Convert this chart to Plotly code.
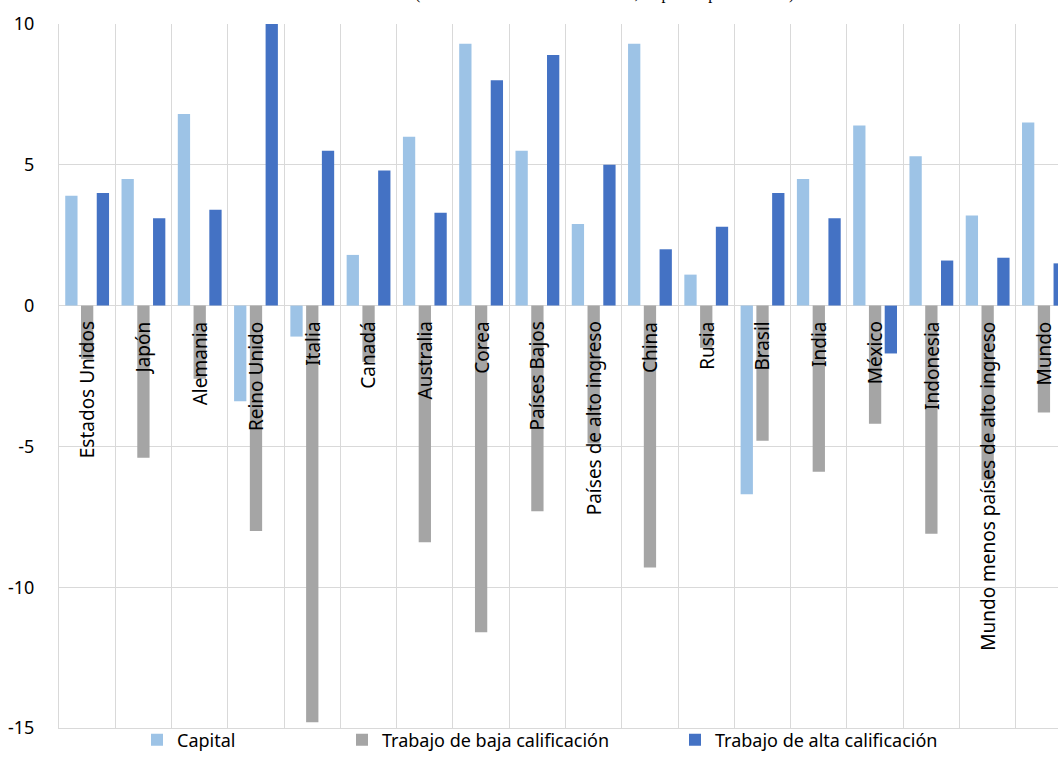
import plotly.graph_objects as go

categorias = [
    "Estados Unidos", "Japón", "Alemania", "Reino Unido", "Italia", "Canadá",
    "Australia", "Corea", "Países Bajos", "Países de alto ingreso", "China",
    "Rusia", "Brasil", "India", "México", "Indonesia",
    "Mundo menos países de alto ingreso", "Mundo",
]

capital = [3.9, 4.5, 6.8, -3.4, -1.1, 1.8, 6.0, 9.3, 5.5, 2.9, 9.3, 1.1, -6.7, 4.5, 6.4, 5.3, 3.2, 6.5]
trabajo_baja = [-1.9, -5.4, -2.6, -8.0, -14.8, -2.0, -8.4, -11.6, -7.3, -4.9, -9.3, -1.5, -4.8, -5.9, -4.2, -8.1, -6.2, -3.8]
trabajo_alta = [4.0, 3.1, 3.4, 10.0, 5.5, 4.8, 3.3, 8.0, 8.9, 5.0, 2.0, 2.8, 4.0, 3.1, -1.7, 1.6, 1.7, 1.5]

y_ticks = [10, 5, 0, -5, -10, -15]

FONT = "Noto Sans"
GRID = "#D9D9D9"

fig = go.Figure()
series = [
    ("Capital", capital, "#9DC3E6", "legend"),
    ("Trabajo de baja calificación", trabajo_baja, "#A5A5A5", "legend2"),
    ("Trabajo de alta calificación", trabajo_alta, "#4472C4", "legend3"),
]
for name, vals, color, leg in series:
    fig.add_trace(go.Bar(
        x=categorias, y=vals, name=name, marker_color=color,
        marker_line_width=0, legend=leg,
    ))

# category names written vertically just under the zero line
for cat in categorias:
    fig.add_annotation(
        x=cat, y=0, xref="x", yref="y", text=cat, textangle=-90,
        showarrow=False, xanchor="center", yanchor="top", yshift=-14,
        font=dict(family=FONT, size=19, color="#000000"),
    )

# subtitle sitting above the chart
fig.add_annotation(
    x=(604 - 59) / 999, y=1, xref="paper", yref="paper", yanchor="bottom", yshift=19,
    text="(variación de la remuneración real, en puntos porcentuales)",
    showarrow=False, font=dict(family="Liberation Serif", size=16, color="#000000"),
)

legend_common = dict(
    orientation="h", xref="container", yref="container", yanchor="middle",
    y=(778 - 740) / 778, font=dict(family=FONT, size=18, color="#000000"),
    bgcolor="rgba(0,0,0,0)", itemwidth=30, tracegroupgap=0,
)

fig.update_layout(
    width=1058, height=778,
    margin=dict(l=59, r=0, t=24, b=50, autoexpand=False),
    paper_bgcolor="white", plot_bgcolor="white",
    barmode="group", bargap=0.16, bargroupgap=0.22,
    showlegend=True,
    legend=dict(x=137 / 1058, **legend_common),
    legend2=dict(x=342 / 1058, **legend_common),
    legend3=dict(x=675 / 1058, **legend_common),
    xaxis=dict(
        type="category", range=[-0.5, 17.25], tickson="boundaries",
        showgrid=True, gridcolor=GRID, gridwidth=1,
        showticklabels=False, ticks="", zeroline=False,
        showline=True, linecolor=GRID, linewidth=1,
    ),
    yaxis=dict(
        range=[-15, 10], tickvals=y_ticks, ticktext=[str(v) for v in y_ticks],
        showgrid=True, gridcolor=GRID, gridwidth=1,
        zeroline=True, zerolinecolor=GRID, zerolinewidth=1,
        showline=True, linecolor=GRID, linewidth=1,
        ticks="", ticklabelstandoff=20,
        tickfont=dict(family=FONT, size=18, color="#000000"),
    ),
)

fig.write_html("out.html")
